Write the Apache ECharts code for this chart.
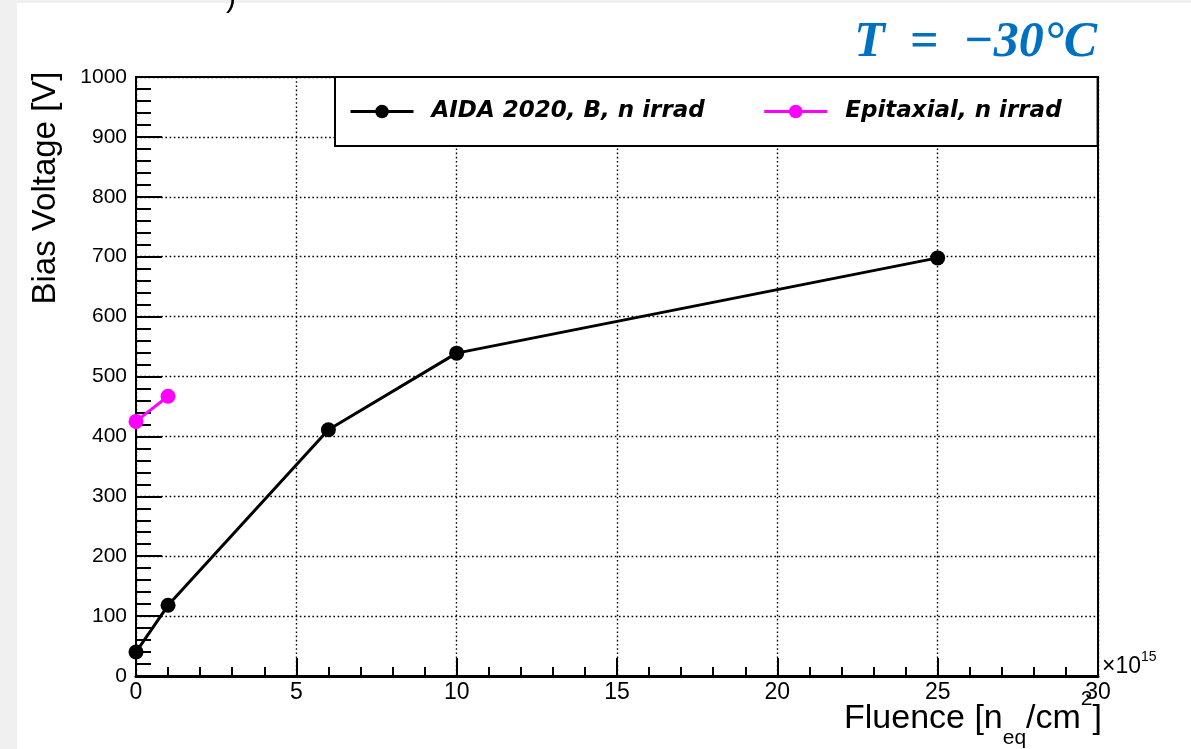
<!DOCTYPE html>
<html>
<head>
<meta charset="utf-8">
<script src="https://cdn.jsdelivr.net/npm/echarts@6/dist/echarts.min.js"></script>
<style>
  html, body { margin: 0; padding: 0; background: #fff; }
  #chart { width: 1191px; height: 749px; }
</style>
</head>
<body>
<div id="chart"></div>
<script>
// fluence in units of 1e15 n_eq/cm2, bias voltage in V
var aidaFluence = [0, 1, 6, 10, 25];
var aidaVoltage = [40, 118, 411, 539, 698];
var epiFluence = [0, 1];
var epiVoltage = [425, 467];
var xTicks = [0, 5, 10, 15, 20, 25, 30];
var yTicks = [0, 100, 200, 300, 400, 500, 600, 700, 800, 900, 1000];

function pairs(xs, ys) {
  return xs.map(function (x, i) { return [x, ys[i]]; });
}

var chart = echarts.init(document.getElementById('chart'));
var font = 'Liberation Sans, Arial, Helvetica, sans-serif';
var legendFont = 'DejaVu Sans, sans-serif';

var option = {
  animation: false,
  grid: {
    left: 136, right: 93, top: 77, bottom: 73,
    show: true, borderColor: '#000', borderWidth: 2, backgroundColor: '#fff'
  },
  legend: {
    left: 335, top: 77,
    backgroundColor: '#fff',
    borderColor: '#000', borderWidth: 2, borderRadius: 0,
    padding: [23, 36, 23, 14],
    itemWidth: 63, itemHeight: 17, itemGap: 58,
    lineStyle: { width: 3 },
    textStyle: {
      fontFamily: legendFont, fontSize: 23, fontWeight: 'bold', fontStyle: 'italic',
      color: '#000', padding: [0, 0, 0, 13]
    },
    data: ['AIDA 2020, B, n irrad', 'Epitaxial, n irrad']
  },
  xAxis: {
    type: 'value', min: xTicks[0], max: xTicks[xTicks.length - 1], interval: 5,
    axisLine: { lineStyle: { color: '#000', width: 3 } },
    axisTick: { inside: true, length: 18, lineStyle: { color: '#000', width: 2 } },
    minorTick: { show: true, splitNumber: 5, length: 9, lineStyle: { color: '#000', width: 2 } },
    axisLabel: { fontFamily: font, fontSize: 23, color: '#000', margin: 5 },
    splitLine: { show: true, lineStyle: { color: '#000', type: [1.6, 2.6], width: 1.4 } }
  },
  yAxis: {
    type: 'value', min: yTicks[0], max: yTicks[yTicks.length - 1], interval: 100,
    axisLine: { show: true, lineStyle: { color: '#000', width: 2 } },
    axisTick: { show: true, inside: true, length: 26, lineStyle: { color: '#000', width: 2 } },
    minorTick: { show: true, splitNumber: 5, length: 15, lineStyle: { color: '#000', width: 2 } },
    axisLabel: {
      fontFamily: font, fontSize: 21, color: '#000', margin: 9,
      formatter: function (v) { return String(v); }
    },
    splitLine: { show: true, lineStyle: { color: '#000', type: [1.6, 2.6], width: 1.4 } }
  },
  series: [
    {
      name: 'AIDA 2020, B, n irrad', type: 'line',
      data: pairs(aidaFluence, aidaVoltage),
      symbol: 'circle', symbolSize: 15, clip: false,
      itemStyle: { color: '#000' },
      lineStyle: { color: '#000', width: 3 }
    },
    {
      name: 'Epitaxial, n irrad', type: 'line',
      data: pairs(epiFluence, epiVoltage),
      symbol: 'circle', symbolSize: 15, clip: false,
      itemStyle: { color: '#ff00ff' },
      lineStyle: { color: '#ff00ff', width: 3 }
    }
  ],
  graphic: [
    { type: 'rect', z: -10, shape: { x: 0, y: 0, width: 1191, height: 3 }, style: { fill: '#f0f0f0' } },
    { type: 'rect', z: -10, shape: { x: 0, y: 0, width: 17, height: 749 }, style: { fill: '#f0f0f0' } },
    { type: 'text', x: 226, y: -16, style: { text: ')', font: '30px ' + font, fill: '#000' } },
    {
      type: 'text', x: 1097, y: 43,
      style: {
        text: 'T  =  −30°C', align: 'right', verticalAlign: 'middle',
        font: 'italic bold 50px "Liberation Serif", "DejaVu Serif", serif', fill: '#0070c0'
      }
    },
    {
      type: 'text', x: 46, y: 188, rotation: Math.PI / 2,
      style: {
        text: 'Bias Voltage [V]', align: 'center', verticalAlign: 'middle',
        font: '33px ' + font, fill: '#000'
      }
    },
    {
      type: 'text', x: 1102, y: 689,
      style: {
        text: '{a|Fluence [n}{b|eq}{a|/cm}{c|2}{a|]}', align: 'right', verticalAlign: 'top',
        rich: {
          a: { fontFamily: font, fontSize: 34, lineHeight: 60, verticalAlign: 'middle', fill: '#000' },
          b: { fontFamily: font, fontSize: 21, lineHeight: 20, verticalAlign: 'bottom', fill: '#000' },
          c: { fontFamily: font, fontSize: 21, lineHeight: 24, verticalAlign: 'top', fill: '#000' }
        }
      }
    },
    {
      type: 'text', x: 1102, y: 650,
      style: {
        text: '{a|×10}{c|15}', align: 'left', verticalAlign: 'top',
        rich: {
          a: { fontFamily: font, fontSize: 23, lineHeight: 28, verticalAlign: 'bottom', fill: '#000' },
          c: { fontFamily: font, fontSize: 14, lineHeight: 14, verticalAlign: 'top', fill: '#000' }
        }
      }
    }
  ]
};
chart.setOption(option);
</script>
</body>
</html>
